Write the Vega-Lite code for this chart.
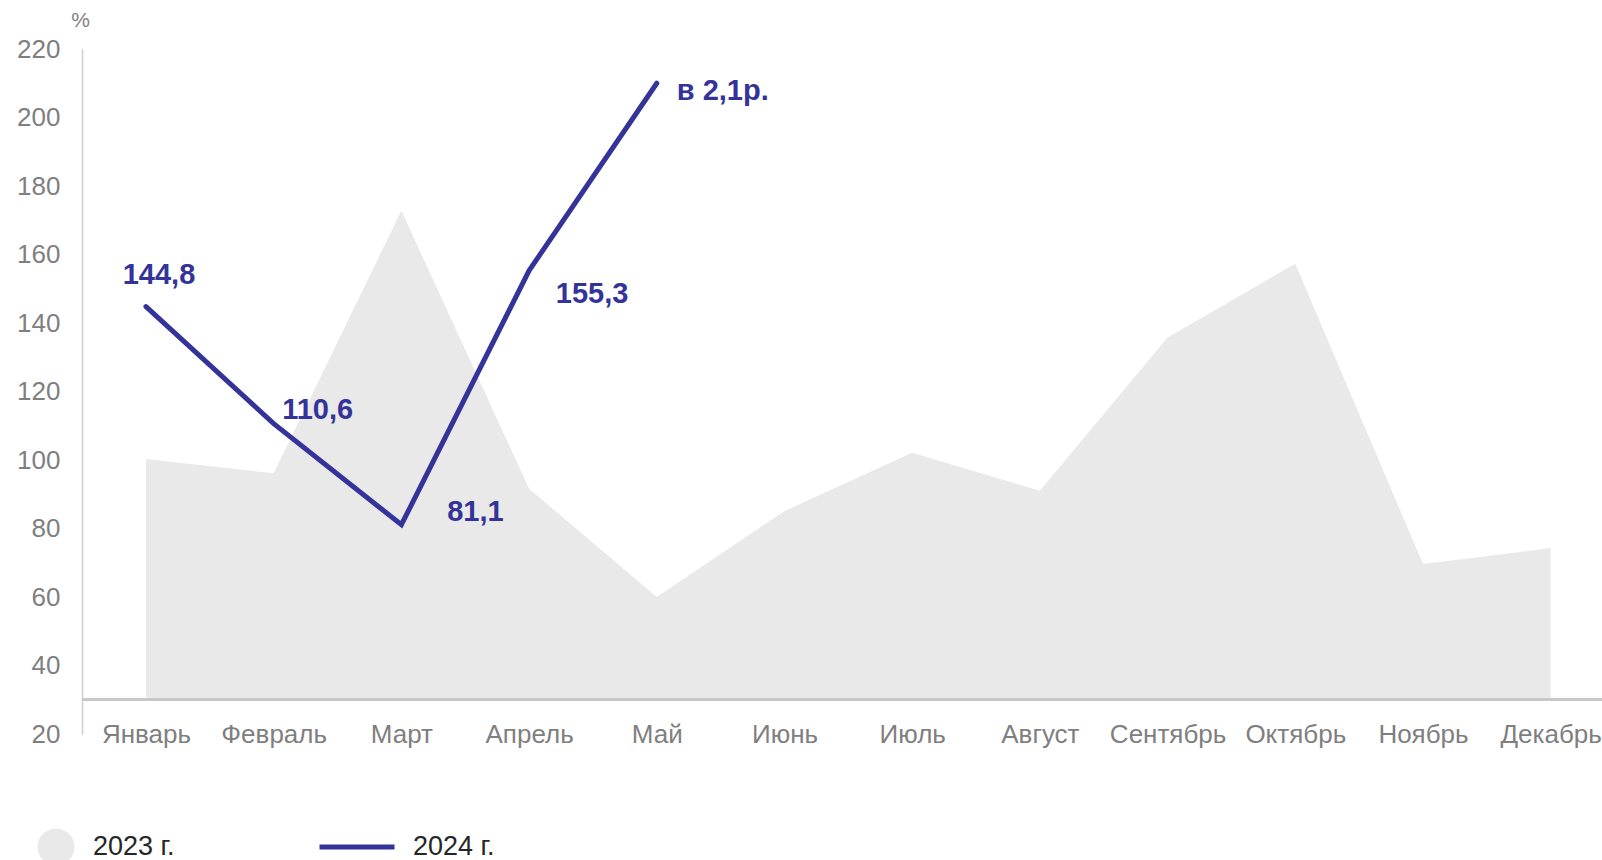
{
  "$schema": "https://vega.github.io/schema/vega-lite/v6.json",
  "width": 1520,
  "height": 685,
  "autosize": {"type": "none"},
  "padding": {"left": 82, "top": 49, "right": 0, "bottom": 126},
  "background": "white",
  "config": {
    "view": {"stroke": null},
    "font": "Liberation Sans"
  },
  "data": {
    "values": [
      {"month": "Январь", "series": "2023 г.", "value": 100.3},
      {"month": "Февраль", "series": "2023 г.", "value": 96.1},
      {"month": "Март", "series": "2023 г.", "value": 172.8},
      {"month": "Апрель", "series": "2023 г.", "value": 91.6},
      {"month": "Май", "series": "2023 г.", "value": 60.0},
      {"month": "Июнь", "series": "2023 г.", "value": 85.1},
      {"month": "Июль", "series": "2023 г.", "value": 102.1},
      {"month": "Август", "series": "2023 г.", "value": 91.0},
      {"month": "Сентябрь", "series": "2023 г.", "value": 135.8},
      {"month": "Октябрь", "series": "2023 г.", "value": 157.3},
      {"month": "Ноябрь", "series": "2023 г.", "value": 69.6},
      {"month": "Декабрь", "series": "2023 г.", "value": 74.3},
      {"month": "Январь", "series": "2024 г.", "value": 144.8, "label": "144,8"},
      {"month": "Февраль", "series": "2024 г.", "value": 110.6, "label": "110,6"},
      {"month": "Март", "series": "2024 г.", "value": 81.1, "label": "81,1"},
      {"month": "Апрель", "series": "2024 г.", "value": 155.3, "label": "155,3"},
      {"month": "Май", "series": "2024 г.", "value": 210.0, "label": "в 2,1р."}
    ]
  },
  "encoding": {
    "x": {
      "field": "month",
      "type": "ordinal",
      "sort": null,
      "scale": {
        "type": "point",
        "domain": ["Январь", "Февраль", "Март", "Апрель", "Май", "Июнь", "Июль", "Август", "Сентябрь", "Октябрь", "Ноябрь", "Декабрь"],
        "padding": 0.4515,
        "align": 0.555
      },
      "axis": {
        "title": null,
        "domain": false,
        "ticks": false,
        "grid": false,
        "labelAngle": 0,
        "labelBaseline": "middle",
        "labelPadding": 0,
        "labelFontSize": 26,
        "labelColor": "#7f7f7f",
        "labelFont": "Liberation Sans"
      }
    },
    "y": {
      "field": "value",
      "type": "quantitative",
      "scale": {"domain": [20, 220], "nice": false, "zero": false},
      "axis": {
        "values": [20, 40, 60, 80, 100, 120, 140, 160, 180, 200, 220],
        "grid": false,
        "ticks": false,
        "domainColor": "#d0d0d0",
        "domainWidth": 1.5,
        "labelPadding": 22,
        "labelFontSize": 26,
        "labelColor": "#7f7f7f",
        "labelFont": "Liberation Sans",
        "title": "%",
        "titleAngle": 0,
        "titleX": -2,
        "titleY": -29,
        "titleAlign": "center",
        "titleBaseline": "middle",
        "titleFontSize": 21,
        "titleFontWeight": "normal",
        "titleColor": "#7f7f7f",
        "titleFont": "Liberation Sans"
      }
    }
  },
  "layer": [
    {
      "transform": [{"filter": "datum.series === '2023 г.'"}],
      "mark": {"type": "area", "opacity": 1},
      "encoding": {
        "y2": {"datum": 30},
        "fill": {
          "field": "series",
          "type": "nominal",
          "scale": {"domain": ["2023 г."], "range": ["#e9e9e9"]},
          "legend": {
            "orient": "none",
            "legendX": -45,
            "legendY": 779,
            "title": null,
            "symbolType": "circle",
            "symbolSize": 1370,
            "symbolStrokeWidth": 0,
            "symbolOpacity": 1,
            "labelFontSize": 27,
            "labelColor": "#262626",
            "labelFont": "Liberation Sans",
            "labelOffset": 18,
            "padding": 0
          }
        }
      }
    },
    {
      "mark": {"type": "rule", "color": "#c8c8c8", "strokeWidth": 2.5},
      "encoding": {
        "x": null,
        "y": {"datum": 30}
      }
    },
    {
      "transform": [{"filter": "datum.series === '2024 г.'"}],
      "mark": {"type": "line", "strokeWidth": 5, "strokeCap": "round", "strokeJoin": "miter"},
      "encoding": {
        "stroke": {
          "field": "series",
          "type": "nominal",
          "scale": {"domain": ["2024 г."], "range": ["#333399"]},
          "legend": {
            "orient": "none",
            "legendX": 235,
            "legendY": 758,
            "title": null,
            "symbolType": "stroke",
            "symbolSize": 5625,
            "symbolStrokeWidth": 5,
            "labelFontSize": 27,
            "labelColor": "#262626",
            "labelFont": "Liberation Sans",
            "labelOffset": 16,
            "padding": 0
          }
        }
      }
    },
    {
      "transform": [{"filter": "datum.month === 'Январь' && datum.series === '2024 г.'"}],
      "mark": {"type": "text", "dx": 13, "dy": -32, "fontSize": 29, "fontWeight": "bold", "color": "#333399", "font": "Liberation Sans", "align": "center", "baseline": "middle"},
      "encoding": {"text": {"field": "label"}}
    },
    {
      "transform": [{"filter": "datum.month === 'Февраль' && datum.series === '2024 г.'"}],
      "mark": {"type": "text", "dx": 44, "dy": -14, "fontSize": 29, "fontWeight": "bold", "color": "#333399", "font": "Liberation Sans", "align": "center", "baseline": "middle"},
      "encoding": {"text": {"field": "label"}}
    },
    {
      "transform": [{"filter": "datum.month === 'Март' && datum.series === '2024 г.'"}],
      "mark": {"type": "text", "dx": 74, "dy": -13, "fontSize": 29, "fontWeight": "bold", "color": "#333399", "font": "Liberation Sans", "align": "center", "baseline": "middle"},
      "encoding": {"text": {"field": "label"}}
    },
    {
      "transform": [{"filter": "datum.month === 'Апрель' && datum.series === '2024 г.'"}],
      "mark": {"type": "text", "dx": 63, "dy": 23, "fontSize": 29, "fontWeight": "bold", "color": "#333399", "font": "Liberation Sans", "align": "center", "baseline": "middle"},
      "encoding": {"text": {"field": "label"}}
    },
    {
      "transform": [{"filter": "datum.month === 'Май' && datum.series === '2024 г.'"}],
      "mark": {"type": "text", "dx": 20, "dy": 8, "fontSize": 29, "fontWeight": "bold", "color": "#333399", "font": "Liberation Sans", "align": "left", "baseline": "middle"},
      "encoding": {"text": {"field": "label"}}
    }
  ]
}
